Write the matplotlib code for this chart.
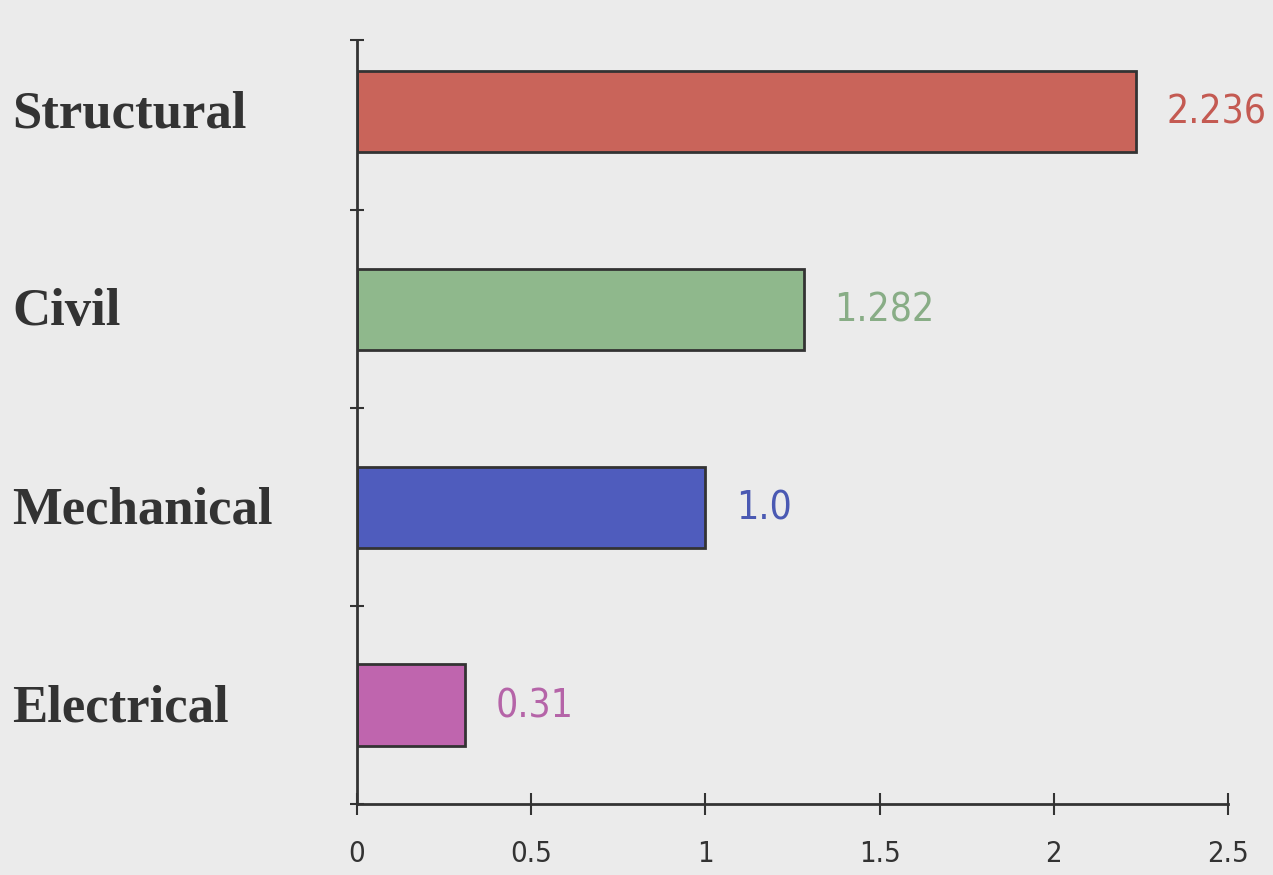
import matplotlib
matplotlib.use("Agg")
import matplotlib.pyplot as plt
from matplotlib import font_manager

categories = ["Electrical", "Mechanical", "Civil", "Structural"]
values = [0.31, 1.0, 1.282, 2.236]
value_labels = ["0.31", "1.0", "1.282", "2.236"]
bar_colors = ["#bf65ae", "#4f5cbd", "#8fb88c", "#c9645a"]
label_colors = ["#b564a8", "#4a59b3", "#88ad86", "#c45a52"]
xticks = [0, 0.5, 1, 1.5, 2, 2.5]
xtick_labels = ["0", "0.5", "1", "1.5", "2", "2.5"]

names = {f.name for f in font_manager.fontManager.ttflist}
narrow = "Liberation Sans Narrow" if "Liberation Sans Narrow" in names else "DejaVu Sans"

bg = "#ebebeb"
fig = plt.figure(figsize=(12.73, 8.75), dpi=100, facecolor=bg)
ax = fig.add_axes([0.2804, 0.0811, 0.6843, 0.8732], facecolor=bg)

ypos = list(range(len(categories)))
ax.barh(ypos, values, height=0.41, color=bar_colors, edgecolor="#333333", linewidth=2)

ax.set_xlim(0, 2.5)
ax.set_ylim(-0.5, 3.36)

for s in ["top", "right"]:
    ax.spines[s].set_visible(False)
for s in ["left", "bottom"]:
    ax.spines[s].set_color("#333333")
    ax.spines[s].set_linewidth(2)

ax.set_xticks(xticks)
ax.set_xticklabels(xtick_labels, fontfamily=narrow, fontstretch="condensed",
                   fontsize=21, color="#333333")
ax.tick_params(axis="x", direction="inout", length=16, width=1.5, color="#333333", pad=18)

ax.set_yticks([-0.5, 0.5, 1.5, 2.5, 3.36])
ax.set_yticklabels([])
ax.tick_params(axis="y", direction="inout", length=10, width=1.5, color="#333333")

for y, name in zip(ypos, categories):
    disp = ax.transData.transform((0, y))
    fy = fig.transFigure.inverted().transform(disp)[1]
    fig.text(12 / 1273, fy - 3 / 875, name, fontfamily="Liberation Serif", fontweight="bold",
             fontsize=38, color="#333333", ha="left", va="center")

for y, v, lab, c in zip(ypos, values, value_labels, label_colors):
    ax.annotate(lab, (v, y), xytext=(22, -1), textcoords="offset points",
                fontfamily=narrow, fontstretch="condensed", fontsize=28,
                fontweight="medium", color=c, ha="left", va="center",
                annotation_clip=False)

fig.savefig("out.png", dpi=100, facecolor=bg)
